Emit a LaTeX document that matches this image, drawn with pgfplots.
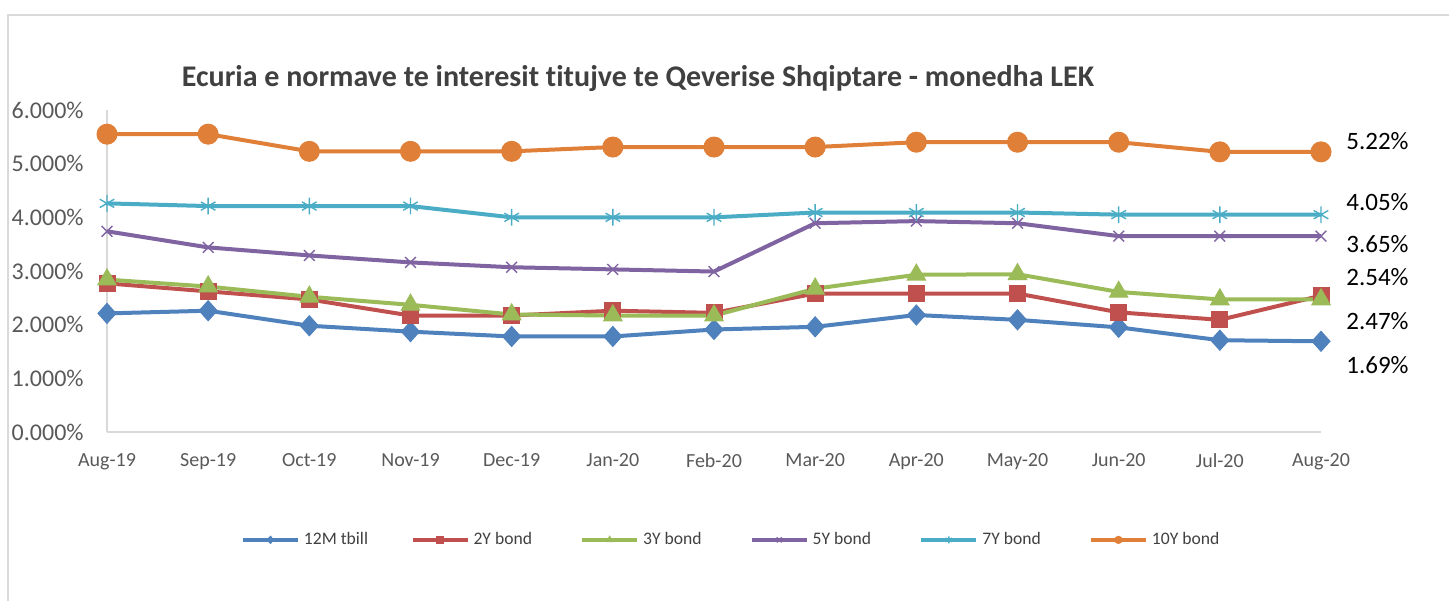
\documentclass[border=0pt]{standalone}
\usepackage{pgfplots}
\pgfplotsset{compat=1.18}
\usepackage{fontspec}
\setmainfont{Carlito}[Ligatures=CommonOff]
\definecolor{cBlue}{HTML}{4F81BD}
\definecolor{cRed}{HTML}{C0504D}
\definecolor{cGreen}{HTML}{9BBB59}
\definecolor{cPurple}{HTML}{8064A2}
\definecolor{cAqua}{HTML}{4BACC6}
\definecolor{cOrange}{HTML}{E07F38}
\definecolor{cAxis}{HTML}{D9D9D9}
\definecolor{cTick}{HTML}{595959}
\definecolor{cTitle}{HTML}{404040}
\begin{document}
\begin{tikzpicture}
\path[use as bounding box] (0,0) rectangle (724.5pt,300.5pt);
\draw[cAxis, line width=0.8pt] (4pt,0) -- (4pt,293pt) -- (724.5pt,293pt);
\node[font=\bfseries\fontsize{15}{18}\selectfont, text=cTitle] at (319pt,261pt) {Ecuria e normave te interesit titujve te Qeverise Shqiptare - monedha LEK};
\begin{axis}[
  at={(53.5pt,84.5pt)}, anchor=south west,
  scale only axis, width=607pt, height=161pt,
  xmin=0, xmax=12, ymin=0, ymax=6,
  clip=false,
  axis lines=left,
  axis line style={-, draw=cAxis, line width=0.8pt},
  major tick length=0pt,
  xtick={0,...,12},
  xticklabels={Aug-19,Sep-19,Oct-19,Nov-19,Dec-19,Jan-20,Feb-20,Mar-20,Apr-20,May-20,Jun-20,Jul-20,Aug-20},
  ytick={0,1,2,3,4,5,6},
  yticklabel={\pgfmathprintnumber[fixed,fixed zerofill,precision=3]{\tick}\%},
  /pgf/number format/assume math mode=true,
  xticklabel style={font=\fontsize{10}{12}\selectfont, text=cTick, inner sep=0pt, yshift=-10.5pt},
  yticklabel style={font=\fontsize{12}{14}\selectfont, text=cTick, inner sep=0pt, xshift=-11.5pt},
  every axis plot/.append style={line width=2pt},
  legend columns=6,
  legend style={draw=none, fill=none, at={(0.110,-0.335)}, anchor=west,
    font=\fontsize{8.8}{10}\selectfont, text=cTitle, inner sep=0pt,
    column sep=0pt, nodes={inner sep=0pt},
    /tikz/every odd column/.append style={column sep=2pt}},
  legend image code/.code={\draw[mark repeat=2,mark phase=2] plot coordinates {(0pt,0pt) (13.75pt,0pt) (27.5pt,0pt)};},
  legend image post style={mark size=1.8pt},
]
\addplot[cBlue, mark=diamond*, mark size=5pt, mark options={solid, fill=cBlue, line width=0.5pt, xscale=1.2}] coordinates {
(0,2.21)(1,2.26)(2,1.98)(3,1.87)(4,1.78)(5,1.78)(6,1.91)(7,1.96)(8,2.18)(9,2.09)(10,1.95)(11,1.71)(12,1.69)};
\addlegendentry{\makebox[53.3pt][l]{12M tbill}}
\addplot[cRed, mark=square*, mark size=4pt, mark options={solid, fill=cRed, line width=0.5pt}] coordinates {
(0,2.77)(1,2.62)(2,2.47)(3,2.17)(4,2.17)(5,2.26)(6,2.22)(7,2.58)(8,2.58)(9,2.58)(10,2.23)(11,2.09)(12,2.54)};
\addlegendentry{\makebox[53.3pt][l]{2Y bond}}
\addplot[cGreen, mark=triangle*, mark size=5.3pt, mark options={solid, fill=cGreen, line width=0.5pt}] coordinates {
(0,2.84)(1,2.71)(2,2.52)(3,2.37)(4,2.19)(5,2.17)(6,2.17)(7,2.67)(8,2.93)(9,2.94)(10,2.61)(11,2.47)(12,2.47)};
\addlegendentry{\makebox[53.3pt][l]{3Y bond}}
\addplot[cPurple, mark=x, mark size=3.8pt, mark options={solid, line width=0.7pt}] coordinates {
(0,3.74)(1,3.44)(2,3.29)(3,3.16)(4,3.07)(5,3.03)(6,2.99)(7,3.89)(8,3.93)(9,3.89)(10,3.65)(11,3.65)(12,3.65)};
\addlegendentry{\makebox[53.3pt][l]{5Y bond}}
\addplot[cAqua, mark=asterisk, mark size=4.2pt, mark options={solid, line width=0.7pt}] coordinates {
(0,4.26)(1,4.21)(2,4.21)(3,4.21)(4,4.00)(5,4.00)(6,4.00)(7,4.09)(8,4.09)(9,4.09)(10,4.05)(11,4.05)(12,4.05)};
\addlegendentry{\makebox[53.3pt][l]{7Y bond}}
\addplot[cOrange, mark=*, mark size=5pt, mark options={solid, fill=cOrange, line width=0.5pt}] coordinates {
(0,5.55)(1,5.55)(2,5.23)(3,5.23)(4,5.23)(5,5.31)(6,5.31)(7,5.31)(8,5.40)(9,5.40)(10,5.40)(11,5.22)(12,5.22)};
\addlegendentry{10Y bond}
\end{axis}
\begin{scope}[every node/.style={anchor=west, inner sep=0pt, font=\fontsize{12.5}{14}\selectfont, text=black}]
\node at (673pt,230pt) {5.22\%};
\node at (673pt,199.5pt) {4.05\%};
\node at (673pt,178.5pt) {3.65\%};
\node at (673pt,162pt) {2.54\%};
\node at (673pt,140pt) {2.47\%};
\node at (673pt,118pt) {1.69\%};
\end{scope}
\end{tikzpicture}
\end{document}
